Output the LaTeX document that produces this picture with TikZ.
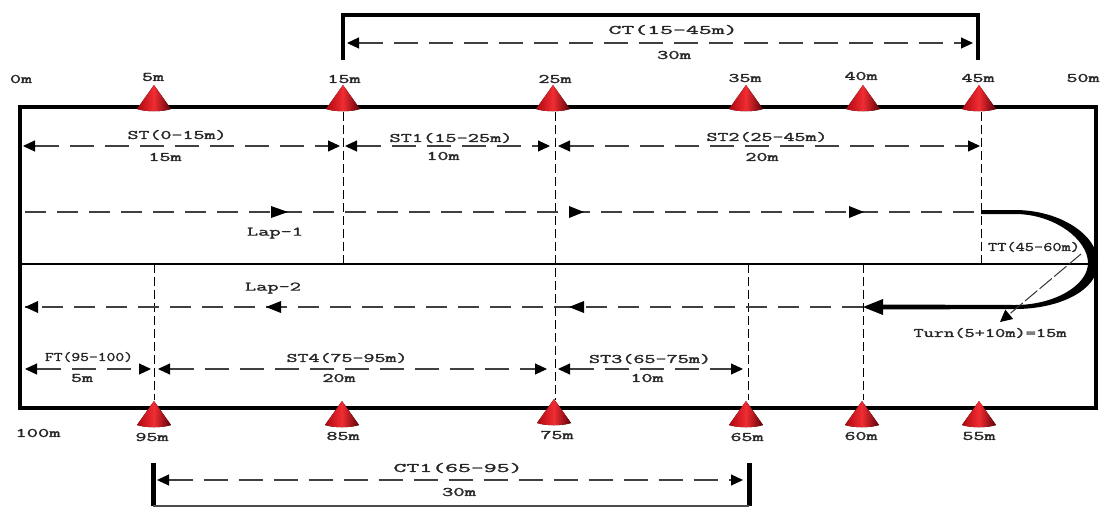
\documentclass[tikz,border=0pt]{standalone}
\usepackage{graphicx}
\usepackage{fontspec}
\setmonofont{Latin Modern Mono}[FakeBold=1.6]
\usetikzlibrary{arrows.meta}
\definecolor{coneL}{RGB}{175,8,18}
\definecolor{coneM}{RGB}{240,45,50}
\definecolor{coneR}{RGB}{95,0,8}
\tikzset{
  x=1pt,y=-1pt,
  lab/.style={font=\fontsize{13}{13}\selectfont\ttfamily,text=black!85,inner sep=0pt},
  tr/.style={line width=4.5pt,draw=black,line join=miter},
  dim/.style={dash pattern=on 24pt off 11pt,line width=1.1pt,draw=black!75,{Triangle[length=12pt,width=11pt,black]}-{Triangle[length=12pt,width=11pt,black]}},
  one/.style={dash pattern=on 21pt off 11pt,line width=1.1pt,draw=black!75},
  vd/.style={dash pattern=on 9pt off 4pt,line width=1pt,draw=black},
  head/.style={fill=black,draw=none},
}
\newcommand{\cone}[3]{%
  \fill[left color=coneL,right color=coneR,middle color=coneM] (#1-17,#2+24) .. controls (#1-8,#2+27) and (#1+8,#2+27) .. (#1+17,#2+24) -- (#1,#2) -- cycle;
  \coordinate (#3) at (#1,#2);
}
\newcommand{\lbl}[2]{\resizebox{#1pt}{\height}{#2}}
\begin{document}
\begin{tikzpicture}
\useasboundingbox (0,0) rectangle (1102,507);
% track
\coordinate (tl) at (20,107); \coordinate (tr) at (1096,107);
\coordinate (bl) at (20,408); \coordinate (brc) at (1096,408);
\coordinate (ml) at (20,264); \coordinate (mr) at (1096,264);
\draw[tr] (tl) -- (tr) -- (brc) -- (bl) -- cycle;
\draw[line width=1.6pt] (ml) -- (mr);
% vertical dashed
\coordinate (v15a) at (343,112); \coordinate (v15b) at (343,264);
\coordinate (v25a) at (555,112); \coordinate (v25b) at (555,400);
\coordinate (v45a) at (981,112); \coordinate (v45b) at (981,264);
\coordinate (v95a) at (154,264); \coordinate (v95b) at (154,400);
\coordinate (v65a) at (748,264); \coordinate (v65b) at (748,400);
\coordinate (v60a) at (863,264); \coordinate (v60b) at (863,400);
\foreach \a/\b in {v15a/v15b,v25a/v25b,v45a/v45b,v95a/v95b,v65a/v65b,v60a/v60b} \draw[vd] (\a) -- (\b);
% cones
\cone{154}{85}{c5}\cone{343}{85}{c15}\cone{553}{85}{c25}\cone{746}{85}{c35}\cone{863}{85}{c40}\cone{979}{85}{c45}
\cone{154}{401}{c95}\cone{342}{401}{c85}\cone{554}{399}{c75}\cone{746}{401}{c65}\cone{862}{401}{c60}\cone{979}{401}{c55}
% cone labels
\foreach \x/\y/\w/\t in {21/79/22/0m,153/77/22/5m,344/79/33/15m,555/79/33/25m,745/78/33/35m,861/76/33/40m,978/78/33/45m,1083/78/33/50m,
 38/433/45/100m,152/437/33/95m,343/436/33/85m,557/435/33/75m,747/437/33/65m,861/436/33/60m,979/436/33/55m}
 \node[lab] at (\x,\y) {\lbl{\w}{\t}};
% CT brackets
\coordinate (cta) at (343,60); \coordinate (ctb) at (343,15); \coordinate (ctc) at (978,15); \coordinate (ctd) at (978,60);
\draw[tr] (cta) -- (ctb) -- (ctc) -- (ctd);
\coordinate (ct1a) at (153,463); \coordinate (ct1b) at (153,506); \coordinate (ct1c) at (749,506); \coordinate (ct1d) at (749,463);
\draw[line width=5pt] (ct1a) -- (ct1b);
\draw[line width=5pt] (ct1d) -- (ct1c);
\draw[line width=1.4pt,black!70] (ct1b) -- (ct1c);
% dimensions
\foreach \n/\xa/\xb/\y in {d1/347/973/43,d2/23/340/146,d3/345/550/146,d4/558/980/146,d5/25/151/369,d6/158/547/369,d7/558/743/369,d8/157/743/480}{
  \coordinate (\n a) at (\xa,\y); \coordinate (\n b) at (\xb,\y);
  \draw[dim] (\n a) -- (\n b);
}
\foreach \x/\y/\w/\t in {673/30/129/CT(15-45m),674/55/34/30m,
 177/135/99/ST(0-15m),165/157/33/15m,
 451/138/123/ST1(15-25m),443/156/33/10m,
 767/137/121/ST2(25-45m),762/157/33/20m,
 89/357/88/FT(95-100),82/378/22/5m,
 347/358/121/ST4(75-95m),339/378/33/20m,
 650/359/122/ST3(65-75m),647/378/33/10m,
 458/468/129/CT1(65-95),459/492/34/30m,
 275/233/56/Lap-1,273/288/56/Lap-2,
 1034/247/92/TT(45-60m),990/333/153/Turn(5+10m)=15m}
 \node[lab] at (\x,\y) {\lbl{\w}{\t}};
% lap lines
\coordinate (l1s) at (25,212); \coordinate (l1m1) at (288,212); \coordinate (l1m2) at (584,212); \coordinate (l1m3) at (864,212); \coordinate (l1e) at (981,212);
\draw[one] (l1s) -- (l1e);
\fill[head] (l1m1) -- ++(-17,-6) -- ++(0,12) -- cycle;
\fill[head] (l1m2) -- ++(-15,-6) -- ++(0,12) -- cycle;
\fill[head] (l1m3) -- ++(-15,-6) -- ++(0,12) -- cycle;
\coordinate (l2s) at (863,307); \coordinate (l2m1) at (266,307); \coordinate (l2m2) at (569,307); \coordinate (l2e) at (25,307);
\draw[one] (l2s) -- (l2e);
\fill[head] (l2e) -- ++(13,-6) -- ++(0,12) -- cycle;
\fill[head] (l2m1) -- ++(15,-6) -- ++(0,12) -- cycle;
\fill[head] (l2m2) -- ++(15,-6) -- ++(0,12) -- cycle;
% turn
\coordinate (ts) at (981,212); \coordinate (te) at (863,307);
\fill[black] (981,210) -- (1015,210) .. controls (1060,210) and (1098,235) .. (1098,263) .. controls (1098,290) and (1060,309) .. (1015,309) -- (880,309.5)
  -- (880,304.5) -- (1015,305) .. controls (1055,305) and (1088,285) .. (1088,263) .. controls (1088,240) and (1055,214) .. (1015,214) -- (981,214) -- cycle;
\fill[head] (te) -- (883,299) -- (883,315) -- cycle;
% turn pointer
\coordinate (pa) at (1081,254); \coordinate (pb) at (1000,322);
\draw[dash pattern=on 16pt off 3pt,line width=1pt,black!80,-{Triangle[length=12pt,width=12pt,black]}] (pa) -- (pb);
\end{tikzpicture}
\end{document}
